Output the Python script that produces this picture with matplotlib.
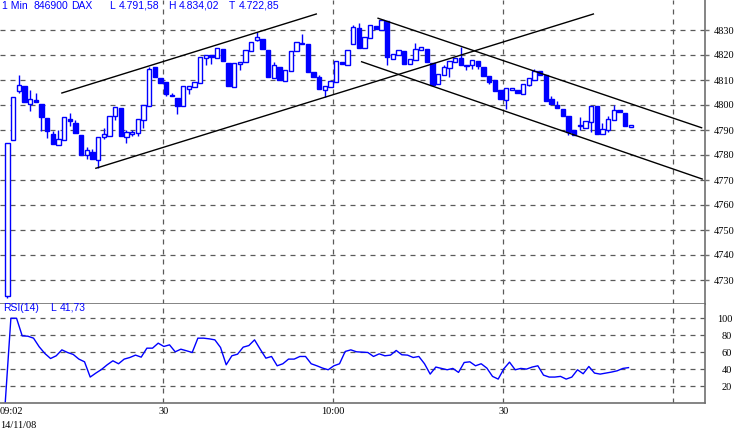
import numpy as np
import matplotlib
matplotlib.use("Agg")
import matplotlib.pyplot as plt

# --- Daten: 1-Min-Kerzen DAX, 14/11/08, ab 09:02 ---
opens = [4723.5, 4786.0, 4805.7, 4807.7, 4800.4, 4802.1, 4800.4, 4794.9, 4788.5, 4784.0,
         4786.0, 4794.4, 4792.8, 4788.0, 4780.0, 4781.3, 4778.0, 4787.2, 4787.6, 4795.5,
         4798.8, 4787.2, 4788.5, 4788.7, 4794.1, 4799.7, 4815.2, 4810.8, 4809.3, 4804.1,
         4802.8, 4799.5, 4806.4, 4807.2, 4808.8, 4818.8, 4820.1, 4818.8, 4822.5, 4816.9,
         4807.2, 4816.5, 4817.2, 4821.5, 4826.0, 4826.5, 4821.9, 4810.8, 4815.2, 4809.7,
         4813.6, 4821.6, 4824.4, 4824.5, 4813.1, 4811.2, 4806.1, 4807.1, 4809.2, 4817.2,
         4816.0, 4824.3, 4830.8, 4822.7, 4826.7, 4831.7, 4830.0, 4833.5, 4818.4, 4820.0,
         4821.7, 4816.4, 4817.9, 4822.0, 4822.4, 4816.8, 4808.3, 4811.9, 4814.8, 4817.1,
         4818.8, 4815.6, 4815.9, 4817.7, 4815.3, 4811.7, 4809.9, 4805.9, 4802.1, 4806.1,
         4806.1, 4804.4, 4808.0, 4810.0, 4813.5, 4812.0, 4802.5, 4800.1, 4798.5, 4795.7,
         4790.1, 4791.5, 4790.8, 4793.1, 4799.5, 4788.3, 4790.1, 4794.0, 4798.0, 4796.8,
         4791.2]
highs = [4785.0, 4803.2, 4811.9, 4807.7, 4806.0, 4804.7, 4800.4, 4794.9, 4789.7, 4790.0,
         4795.2, 4797.0, 4793.9, 4788.0, 4783.2, 4782.4, 4787.2, 4791.0, 4795.7, 4799.2,
         4798.8, 4790.0, 4790.0, 4794.4, 4800.0, 4815.2, 4815.2, 4810.8, 4809.3, 4804.6,
         4802.8, 4807.6, 4807.6, 4809.2, 4819.3, 4820.0, 4820.1, 4822.8, 4822.5, 4816.9,
         4816.9, 4817.3, 4822.0, 4825.3, 4829.1, 4826.5, 4821.9, 4817.3, 4815.2, 4814.0,
         4821.6, 4825.2, 4828.4, 4824.5, 4813.1, 4812.0, 4807.5, 4809.6, 4817.6, 4817.2,
         4822.0, 4831.9, 4832.8, 4827.1, 4832.0, 4831.7, 4834.0, 4833.5, 4820.4, 4822.0,
         4821.7, 4818.4, 4824.8, 4823.2, 4822.4, 4816.8, 4812.4, 4816.0, 4817.6, 4818.8,
         4823.1, 4816.0, 4818.0, 4817.7, 4815.3, 4811.7, 4809.9, 4805.9, 4806.8, 4806.7,
         4806.1, 4808.4, 4810.9, 4814.4, 4813.5, 4812.0, 4803.7, 4801.7, 4798.5, 4795.7,
         4790.1, 4795.2, 4793.7, 4799.7, 4799.5, 4792.8, 4795.5, 4800.0, 4798.0, 4796.8,
         4792.0]
lows = [4722.9, 4786.0, 4804.8, 4801.1, 4797.5, 4801.1, 4789.7, 4787.0, 4784.4, 4784.0,
        4786.0, 4791.7, 4789.0, 4780.1, 4778.4, 4778.4, 4774.8, 4786.4, 4787.6, 4794.1,
        4787.5, 4785.0, 4787.5, 4787.5, 4790.8, 4799.7, 4811.2, 4808.8, 4803.5, 4803.5,
        4796.3, 4799.5, 4804.3, 4807.2, 4808.8, 4816.0, 4816.5, 4818.8, 4817.5, 4807.6,
        4807.2, 4814.1, 4817.2, 4821.5, 4825.5, 4822.4, 4811.2, 4810.8, 4810.1, 4809.7,
        4813.6, 4821.6, 4824.4, 4813.1, 4811.1, 4806.4, 4803.2, 4807.1, 4809.2, 4816.3,
        4816.0, 4824.3, 4822.7, 4822.7, 4826.7, 4830.4, 4830.0, 4816.1, 4818.4, 4820.0,
        4816.3, 4816.4, 4817.9, 4822.0, 4817.1, 4808.1, 4808.3, 4811.9, 4811.1, 4817.1,
        4816.0, 4814.2, 4814.5, 4814.5, 4811.6, 4808.5, 4805.5, 4802.4, 4798.4, 4806.1,
        4804.7, 4804.4, 4807.5, 4810.0, 4812.0, 4801.7, 4800.3, 4798.7, 4795.7, 4788.1,
        4788.1, 4790.1, 4790.8, 4789.1, 4788.3, 4788.3, 4789.1, 4794.0, 4797.3, 4791.5,
        4791.2]
closes = [4785.0, 4803.2, 4808.1, 4801.1, 4802.4, 4801.1, 4795.1, 4789.7, 4784.4, 4786.4,
          4795.2, 4793.5, 4789.0, 4780.1, 4782.1, 4778.4, 4787.2, 4788.5, 4795.7, 4799.2,
          4787.5, 4789.3, 4789.3, 4794.4, 4800.0, 4814.4, 4811.2, 4808.8, 4804.4, 4803.5,
          4799.5, 4807.6, 4807.6, 4809.2, 4819.3, 4820.0, 4819.2, 4822.8, 4817.5, 4807.6,
          4816.9, 4817.3, 4822.0, 4825.3, 4827.2, 4822.4, 4811.2, 4816.0, 4810.1, 4814.0,
          4821.6, 4825.2, 4825.0, 4813.1, 4811.1, 4806.4, 4807.5, 4809.6, 4817.6, 4816.3,
          4822.0, 4831.2, 4822.7, 4827.1, 4832.0, 4830.4, 4834.0, 4819.2, 4820.4, 4822.0,
          4816.3, 4818.4, 4822.4, 4823.2, 4817.1, 4808.1, 4812.4, 4815.1, 4817.6, 4818.8,
          4816.0, 4815.6, 4818.0, 4815.5, 4811.6, 4809.3, 4805.5, 4802.4, 4806.8, 4806.7,
          4804.7, 4808.4, 4810.9, 4813.7, 4812.0, 4801.7, 4800.3, 4798.7, 4795.7, 4789.1,
          4788.1, 4792.1, 4793.7, 4799.7, 4788.3, 4790.4, 4794.5, 4798.1, 4797.3, 4791.5,
          4792.0]

rsi = [0.0, 100.0, 100.0, 79.2, 78.8, 76.5, 66.3, 58.4, 52.5, 55.7,
       62.7, 59.6, 57.3, 51.8, 48.6, 30.6, 35.3, 39.6, 45.1, 49.8,
       46.3, 51.8, 53.7, 56.5, 54.1, 64.7, 64.7, 70.6, 66.7, 68.6,
       60.4, 63.5, 61.6, 59.6, 76.5, 76.5, 75.7, 74.5, 65.5, 45.1,
       55.7, 57.6, 65.9, 67.8, 74.5, 63.5, 52.9, 54.9, 43.9, 46.3,
       51.8, 51.8, 54.9, 54.9, 46.3, 43.9, 41.2, 39.2, 43.9, 46.3,
       60.8, 62.7, 60.4, 60.0, 59.6, 54.9, 58.0, 55.7, 56.5, 62.0,
       56.9, 56.5, 53.7, 54.9, 46.3, 34.1, 42.4, 40.8, 39.2, 40.8,
       36.1, 47.8, 48.6, 43.9, 46.3, 41.2, 31.4, 28.2, 40.4, 48.2,
       39.2, 40.8, 40.0, 42.4, 43.9, 32.9, 30.6, 30.6, 31.4, 28.2,
       30.6, 39.2, 34.5, 43.1, 35.3, 34.1, 35.3, 36.5, 38.0, 40.8,
       41.73]

# Minuten nach 09:00
minutes = np.arange(2, 2 + len(opens))

# Trendlinien: (Minute, Kurs) Start / Ende
trend_lines = [
    ((12.1, 4804.8), (57.0, 4836.4)),
    ((18.1, 4774.7), (105.9, 4836.4)),
    ((67.9, 4834.7), (125.0, 4790.9)),
    ((65.0, 4817.3), (125.1, 4770.4)),
]

price_ticks = [4730, 4740, 4750, 4760, 4770, 4780, 4790, 4800, 4810, 4820, 4830]
rsi_ticks = [20, 40, 60, 80, 100]
time_ticks = [30, 60, 90, 120]
time_labels = ["30", "10:00", "30", ""]

blue = "#0000ff"
gridc = "#5a5a5a"
spinec = "#707070"
W, H = 736, 433

fig = plt.figure(figsize=(W / 100, H / 100), dpi=100)
ax = fig.add_axes([0, 1 - 304 / H, 705 / W, 304 / H])
ax2 = fig.add_axes([0, 1 - 403 / H, 705 / W, 99.5 / H], sharex=ax)

x = minutes + 0.5
o = np.array(opens); c = np.array(closes)
up = c >= o

# Kerzen
ax.vlines(x, lows, highs, color=blue, lw=1.0, zorder=2)
ax.bar(x[up], np.maximum(c[up] - o[up], 0.25), bottom=o[up], width=0.78,
       facecolor="white", edgecolor=blue, linewidth=1.0, zorder=3)
ax.bar(x[~up], o[~up] - c[~up], bottom=c[~up], width=0.78,
       facecolor=blue, edgecolor=blue, linewidth=1.0, zorder=3)

for (x0, y0), (x1, y1) in trend_lines:
    ax.plot([x0, x1], [y0, y1], color="black", lw=1.0, zorder=4)

ax.set_xlim(1.18, 125.6)
ax.set_ylim(4720.4, 4842)

ax2.plot(minutes + 0.1, rsi, color=blue, lw=1.0)
ax2.set_ylim(0, 117.4)

dash = (0, (4, 4))
for a, ticks in ((ax, price_ticks), (ax2, rsi_ticks)):
    for t in ticks:
        a.axhline(t, color=gridc, lw=0.9, ls=dash, zorder=1)
    for t in time_ticks:
        a.axvline(t, color=gridc, lw=0.9, ls=dash, zorder=1)
    a.set_facecolor("white")
    for s in ("left", "top"):
        a.spines[s].set_visible(False)
    for s in ("right", "bottom"):
        a.spines[s].set_color(spinec)
        a.spines[s].set_linewidth(1.2)
    a.yaxis.tick_right()
    a.tick_params(axis="x", length=0, labelbottom=False)

ax.set_yticks(price_ticks)
ax.tick_params(axis="y", length=3, width=1, color=spinec, pad=3,
               labelsize=7.5, labelcolor="black")
for lab in ax.get_yticklabels():
    lab.set_family("Liberation Serif")

ax2.set_yticks(rsi_ticks)
ax2.tick_params(axis="y", length=0, pad=19.5, labelsize=7.5, labelcolor="black")
for lab in ax2.get_yticklabels():
    lab.set_family("Liberation Serif")
    lab.set_horizontalalignment("right")

ax2.set_xticks(time_ticks)

# Zeitachsen-Beschriftung
def px(xp, yp):
    return xp / W, 1 - yp / H

serif = dict(family="Liberation Serif", fontsize=7.5, color="black", va="center")
fig.text(*px(0, 412), "09:02", ha="left", **serif)
fig.text(*px(0, 426), "14/11/08", ha="left", **serif)
for t, lab in zip(time_ticks, time_labels):
    if lab:
        xf = ax2.transData.transform((t, 0))[0] / W
        fig.text(xf, 1 - 412 / H, lab, ha="center", **serif)

# Kopfzeile
sans = dict(family="Liberation Sans", fontsize=7.5, color=blue, va="center")
header = [(2, "1 Min"), (33, "846900"), (71, "DAX"), (109, "L"), (119, "4.791,58"),
          (168, "H"), (179, "4.834,02"), (229, "T"), (239, "4.722,85")]
for xp, s in header:
    fig.text(*px(xp, 6), s, ha="left", **sans)

for xp, s in [(3, "RSI(14)"), (50, "L"), (60, "41,73")]:
    fig.text(*px(xp, 308), s, ha="left", **sans)

fig.savefig("out.png", dpi=100)
